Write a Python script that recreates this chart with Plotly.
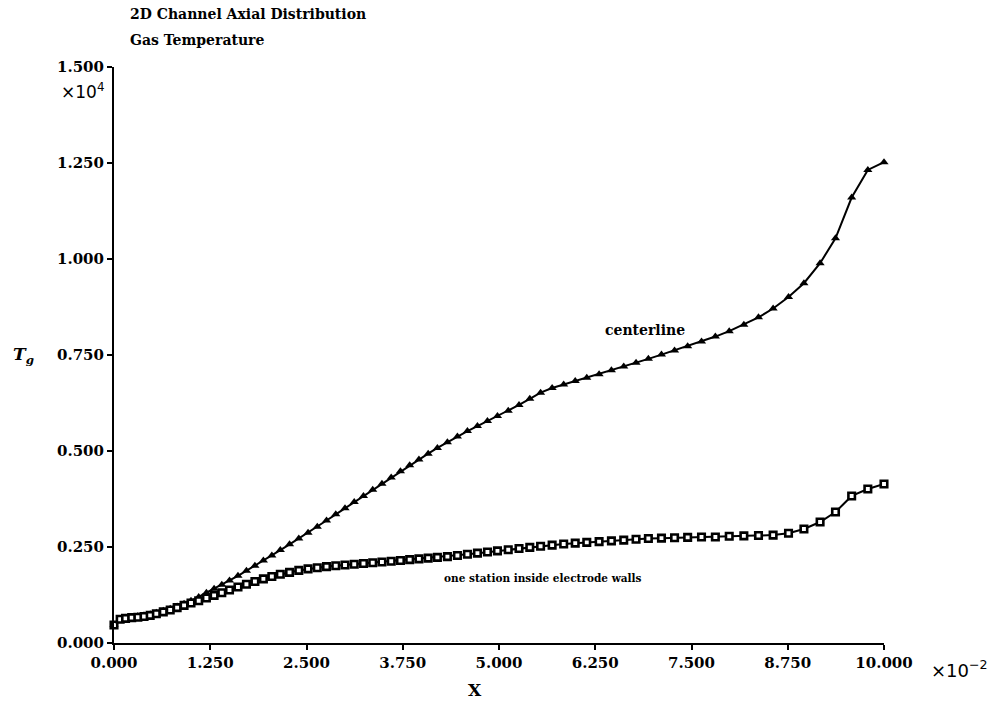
import plotly.graph_objects as go

# x positions (units of 1e-2)
x_grid = [0.00, 0.08, 0.15, 0.23, 0.31, 0.39, 0.47, 0.55, 0.64, 0.73, 0.82, 0.91,
          1.00, 1.10, 1.20, 1.30, 1.40, 1.50, 1.61, 1.72, 1.83, 1.94, 2.05, 2.16,
          2.28, 2.40, 2.52, 2.64, 2.76, 2.88, 3.00, 3.12, 3.24, 3.36, 3.48, 3.60,
          3.72, 3.84, 3.96, 4.08, 4.20, 4.33, 4.46, 4.59, 4.72, 4.85, 4.98, 5.12,
          5.26, 5.40, 5.54, 5.69, 5.84, 5.99, 6.14, 6.30, 6.46, 6.62, 6.78, 6.94,
          7.11, 7.28, 7.45, 7.63, 7.81, 7.99, 8.18, 8.37, 8.56, 8.76, 8.96, 9.17,
          9.37, 9.58, 9.79, 10.00]

# gas temperature (units of 1e4)
centerline = [0.047, 0.062, 0.066, 0.068, 0.070, 0.072, 0.075, 0.079, 0.084, 0.089, 0.095, 0.102,
              0.110, 0.120, 0.131, 0.141, 0.152, 0.163, 0.175, 0.188, 0.201, 0.215, 0.228, 0.242,
              0.257, 0.272, 0.287, 0.303, 0.319, 0.335, 0.351, 0.367, 0.383, 0.399, 0.415, 0.431,
              0.447, 0.463, 0.478, 0.493, 0.508, 0.523, 0.538, 0.552, 0.565, 0.578, 0.591, 0.605,
              0.620, 0.636, 0.652, 0.664, 0.673, 0.682, 0.691, 0.700, 0.710, 0.720, 0.730, 0.740,
              0.751, 0.762, 0.773, 0.785, 0.798, 0.812, 0.829, 0.848, 0.871, 0.901, 0.937, 0.989,
              1.054, 1.160, 1.232, 1.252]

wall_station = [0.047, 0.062, 0.064, 0.066, 0.067, 0.069, 0.072, 0.076, 0.081, 0.086, 0.092, 0.098,
                0.104, 0.110, 0.117, 0.124, 0.131, 0.138, 0.146, 0.153, 0.160, 0.167, 0.173, 0.179,
                0.184, 0.189, 0.193, 0.196, 0.199, 0.201, 0.203, 0.205, 0.207, 0.209, 0.211, 0.213,
                0.215, 0.217, 0.219, 0.221, 0.223, 0.225, 0.228, 0.231, 0.234, 0.237, 0.240, 0.243,
                0.246, 0.249, 0.252, 0.255, 0.258, 0.260, 0.262, 0.264, 0.266, 0.268, 0.270, 0.272,
                0.273, 0.274, 0.275, 0.276, 0.276, 0.278, 0.279, 0.280, 0.281, 0.286, 0.297, 0.315,
                0.341, 0.383, 0.401, 0.414]

x_tick_vals = [0, 1.25, 2.5, 3.75, 5.0, 6.25, 7.5, 8.75, 10.0]
x_tick_text = ["0.000", "1.250", "2.500", "3.750", "5.000", "6.250", "7.500", "8.750", "10.000"]
y_tick_vals = [0, 0.25, 0.5, 0.75, 1.0, 1.25, 1.5]
y_tick_text = ["0.000", "0.250", "0.500", "0.750", "1.000", "1.250", "1.500"]

SERIF = "DejaVu Serif, serif"

fig = go.Figure()
fig.add_trace(go.Scatter(
    x=x_grid, y=centerline, mode="lines+markers", cliponaxis=False,
    line=dict(color="black", width=2),
    marker=dict(symbol="triangle-up", size=8, color="black"),
    name="centerline", showlegend=False))
fig.add_trace(go.Scatter(
    x=x_grid, y=wall_station, mode="lines+markers", cliponaxis=False,
    line=dict(color="black", width=2),
    marker=dict(symbol="square", size=6.5, color="white", line=dict(color="black", width=2.6)),
    name="one station inside electrode walls", showlegend=False))

tfont = dict(family=SERIF, size=15, color="black", weight="bold")

fig.update_layout(
    width=999, height=718,
    margin=dict(l=114, r=115, t=67, b=75),
    paper_bgcolor="white", plot_bgcolor="white",
    font=dict(family=SERIF, color="black", size=15),
    xaxis=dict(range=[0, 10], tickvals=x_tick_vals, ticktext=x_tick_text,
               showgrid=False, zeroline=False, showline=True, linecolor="black", linewidth=2,
               ticks="outside", ticklen=5, tickwidth=2, tickcolor="black",
               tickfont=tfont),
    yaxis=dict(range=[0, 1.5], tickvals=y_tick_vals, ticktext=y_tick_text,
               showgrid=False, zeroline=False, showline=True, linecolor="black", linewidth=2,
               ticks="outside", ticklen=5, tickwidth=2, tickcolor="black",
               tickfont=tfont),
)

annots = [
    dict(text="<b>2D Channel Axial Distribution</b>", xref="paper", yref="paper",
         x=0.018, y=1.092, xanchor="left", yanchor="middle", font=dict(size=14)),
    dict(text="<b>Gas Temperature</b>", xref="paper", yref="paper",
         x=0.018, y=1.047, xanchor="left", yanchor="middle", font=dict(size=14)),
    dict(text="×10<sup>4</sup>", xref="paper", yref="paper",
         x=-0.011, y=0.958, xanchor="right", yanchor="middle",
         font=dict(family="DejaVu Sans", size=17)),
    dict(text="×10<sup>−2</sup>", xref="paper", yref="paper",
         x=1.058, y=-0.045, xanchor="left", yanchor="middle",
         font=dict(family="DejaVu Sans", size=18)),
    dict(text="<b><i>T<sub>g</sub></i></b>", xref="paper", yref="paper",
         x=-0.118, y=0.5, xanchor="center", yanchor="middle", font=dict(size=17)),
    dict(text="<b>X</b>", xref="paper", yref="paper",
         x=0.469, y=-0.082, xanchor="center", yanchor="middle", font=dict(size=17)),
    dict(text="<b>centerline</b>", xref="x", yref="y",
         x=6.90, y=0.815, xanchor="center", yanchor="middle", font=dict(size=14)),
    dict(text="<b>one station inside electrode walls</b>", xref="x", yref="y",
         x=5.57, y=0.169, xanchor="center", yanchor="middle", font=dict(size=10.5)),
]
for a in annots:
    a["showarrow"] = False
    fig.add_annotation(**a)

fig.write_html("out.html")
